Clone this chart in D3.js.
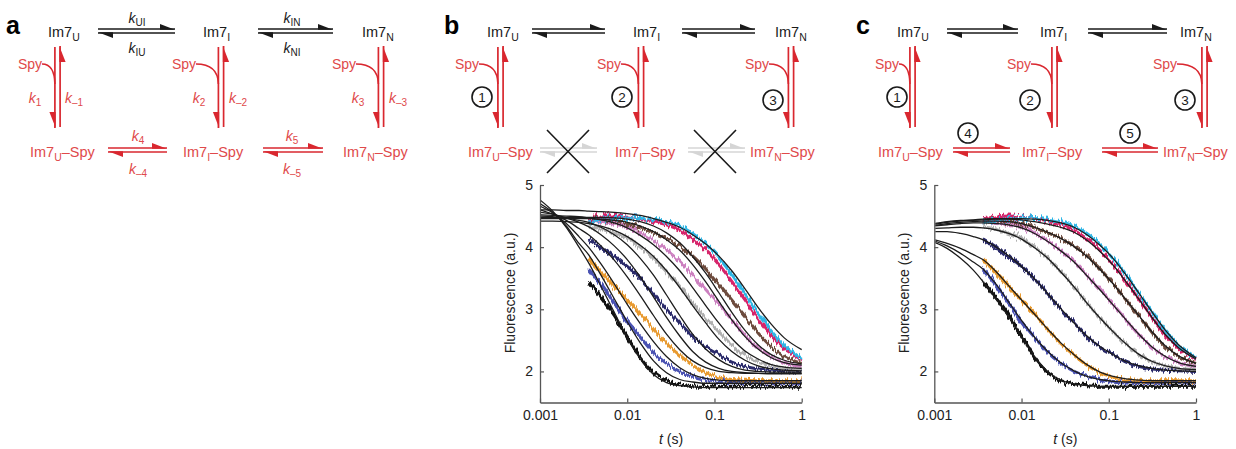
<!DOCTYPE html>
<html><head><meta charset="utf-8">
<script src="https://cdn.jsdelivr.net/npm/d3@7"></script>
<style>
body{margin:0;background:#fff}
svg{font-family:"Liberation Sans",Arial,sans-serif}
</style></head><body>
<script>
// ---- data ----
const tickX = [0.001, 0.01, 0.1, 1];
const tickXLabels = ["0.001", "0.01", "0.1", "1"];
const tickY = [2, 3, 4, 5];

// sampling times (s) of the measured traces and of the fitted curves
const tData = [0.0036, 0.005, 0.0071, 0.01, 0.0141, 0.02, 0.0282, 0.04, 0.0562, 0.0794, 0.112, 0.158, 0.224, 0.316, 0.447, 0.631, 1];
const tFit = [0.001, 0.0014, 0.002, 0.0028].concat(tData);

const traceColors = ["#111111", "#4a52b2", "#e89a30", "#2b2b6b", "#b0b0b0", "#cc80c0", "#6d4b3d", "#d6246a", "#2fb6e6"];

const dataBlack   = [3.45,3.2,2.9,2.56,2.22,1.98,1.85,1.8,1.77,1.76,1.76,1.76,1.76,1.76,1.76,1.76,1.76];
const dataBlue    = [3.65,3.4,3.1,2.8,2.55,2.3,2.13,2.0,1.92,1.87,1.84,1.83,1.82,1.82,1.82,1.82,1.82];
const dataOrange  = [3.8,3.6,3.37,3.15,2.93,2.68,2.45,2.26,2.1,1.98,1.91,1.87,1.86,1.85,1.85,1.85,1.85];
const dataNavy    = [4.12,4.0,3.85,3.69,3.5,3.25,3.0,2.78,2.56,2.39,2.27,2.15,2.08,2.04,2.02,2.01,2.0];
const dataGrey    = [4.33,4.29,4.22,4.15,4.0,3.82,3.6,3.37,3.1,2.86,2.64,2.43,2.26,2.15,2.09,2.05,2.03];
const dataPink    = [4.42,4.4,4.37,4.33,4.23,4.1,3.95,3.77,3.55,3.32,3.08,2.83,2.58,2.38,2.24,2.14,2.08];
const dataBrown   = [4.45,4.43,4.41,4.38,4.31,4.23,4.14,4.02,3.86,3.65,3.41,3.15,2.89,2.62,2.4,2.24,2.13];
const dataMagenta = [4.45,4.48,4.5,4.48,4.45,4.41,4.36,4.27,4.13,3.95,3.72,3.45,3.15,2.85,2.58,2.37,2.19];
const dataCyan    = [4.4,4.43,4.46,4.47,4.46,4.45,4.41,4.34,4.22,4.05,3.83,3.56,3.25,2.95,2.65,2.42,2.21];
const traces = [dataBlack, dataBlue, dataOrange, dataNavy, dataGrey, dataPink, dataBrown, dataMagenta, dataCyan];

// panel b fits (model without direct transfer)
const fitsB = [
  [4.76,4.58,4.32,4.0,3.75,3.37,2.95,2.55,2.2,1.95,1.82,1.77,1.75,1.74,1.74,1.74,1.74,1.74,1.74,1.74,1.74],
  [4.7,4.56,4.34,4.06,3.88,3.55,3.17,2.8,2.46,2.17,1.98,1.87,1.83,1.81,1.81,1.81,1.81,1.81,1.81,1.81,1.81],
  [4.66,4.55,4.38,4.17,4.0,3.73,3.41,3.08,2.77,2.48,2.24,2.06,1.95,1.89,1.86,1.85,1.85,1.85,1.85,1.85,1.85],
  [4.6,4.53,4.43,4.3,4.2,4.02,3.79,3.52,3.22,2.9,2.6,2.35,2.17,2.06,2.0,1.98,1.97,1.97,1.97,1.97,1.97],
  [4.56,4.53,4.47,4.4,4.33,4.2,4.02,3.8,3.52,3.2,2.87,2.57,2.32,2.15,2.05,2.0,1.98,1.97,1.96,1.96,1.96],
  [4.5,4.49,4.47,4.43,4.4,4.32,4.2,4.04,3.82,3.55,3.23,2.9,2.6,2.36,2.19,2.08,2.02,2.0,1.99,1.99,1.99],
  [4.42,4.42,4.41,4.4,4.38,4.34,4.27,4.17,4.03,3.85,3.62,3.35,3.06,2.78,2.52,2.32,2.18,2.09,2.04,2.02,2.01],
  [4.52,4.51,4.5,4.49,4.47,4.44,4.39,4.31,4.19,4.04,3.85,3.62,3.35,3.06,2.78,2.53,2.33,2.2,2.11,2.07,2.05],
  [4.46,4.46,4.46,4.46,4.46,4.45,4.43,4.4,4.34,4.25,4.12,3.95,3.72,3.44,3.13,2.83,2.56,2.36,2.22,2.14,2.1],
  [4.48,4.48,4.48,4.48,4.48,4.48,4.47,4.45,4.41,4.34,4.23,4.07,3.85,3.58,3.27,2.95,2.66,2.43,2.27,2.18,2.12],
  [4.6,4.6,4.59,4.59,4.58,4.57,4.56,4.54,4.51,4.46,4.4,4.32,4.2,4.05,3.86,3.62,3.33,3.03,2.76,2.54,2.35]
];
// panel c fits (model with direct transfer)
const fitsC = [
  [4.08,3.98,3.82,3.63,3.45,3.18,2.88,2.56,2.24,2.0,1.86,1.8,1.77,1.76,1.76,1.76,1.76,1.76,1.76,1.76,1.76],
  [4.1,4.02,3.9,3.76,3.65,3.42,3.12,2.82,2.55,2.32,2.14,2.01,1.92,1.87,1.84,1.83,1.82,1.82,1.82,1.82,1.82],
  [4.12,4.06,3.98,3.88,3.8,3.62,3.38,3.15,2.92,2.68,2.46,2.27,2.11,1.99,1.92,1.88,1.86,1.85,1.85,1.85,1.85],
  [4.25,4.25,4.22,4.17,4.12,4.01,3.86,3.69,3.49,3.25,3.01,2.78,2.57,2.4,2.27,2.16,2.09,2.05,2.02,2.01,2.0],
  [4.3,4.31,4.32,4.32,4.31,4.28,4.22,4.13,3.99,3.82,3.6,3.36,3.1,2.86,2.64,2.44,2.27,2.16,2.09,2.05,2.03],
  [4.34,4.36,4.38,4.39,4.39,4.38,4.36,4.31,4.22,4.09,3.94,3.76,3.54,3.31,3.07,2.83,2.59,2.39,2.24,2.14,2.08],
  [4.35,4.38,4.4,4.41,4.42,4.42,4.41,4.38,4.32,4.24,4.14,4.01,3.85,3.64,3.41,3.15,2.89,2.63,2.41,2.25,2.13],
  [4.37,4.4,4.42,4.43,4.44,4.45,4.45,4.44,4.41,4.37,4.32,4.24,4.11,3.93,3.71,3.44,3.15,2.86,2.59,2.38,2.2],
  [4.38,4.41,4.43,4.44,4.45,4.46,4.46,4.46,4.45,4.43,4.39,4.32,4.2,4.03,3.82,3.55,3.25,2.95,2.66,2.43,2.22]
];

// ---- drawing ----
const W = 1236, H = 449;
const RED = "#d9272f", REDT = "#e0494a", INK = "#1a1a1a";

const svg = d3.select("body").append("svg").attr("width", W).attr("height", H);

const defs = svg.append("defs");
// vertical jitter for the measured traces (a rendering style only)
function jitterFilter(id, freq, scale, seed) {
  const f = defs.append("filter").attr("id", id)
      .attr("filterUnits", "userSpaceOnUse").attr("x", 0).attr("y", 0)
      .attr("width", W).attr("height", H)
      .attr("color-interpolation-filters", "sRGB");
  f.append("feTurbulence").attr("type", "fractalNoise")
      .attr("baseFrequency", freq).attr("numOctaves", 2).attr("seed", seed).attr("result", "t");
  f.append("feColorMatrix").attr("in", "t").attr("type", "matrix")
      .attr("values", "0 0 0 0 0.5  0 1 0 0 0  0 0 0 0 0  0 0 0 0 1").attr("result", "m");
  f.append("feDisplacementMap").attr("in", "SourceGraphic").attr("in2", "m")
      .attr("scale", scale).attr("xChannelSelector", "R").attr("yChannelSelector", "G");
}
jitterFilter("noise", "0.6 0.03", 9, 4);
jitterFilter("noiseHi", "0.5 0.03", 16, 7);
defs.append("filter").attr("id", "blur").append("feGaussianBlur").attr("stdDeviation", 0.6);

function species(g, x, y, sub, tail, color) {
  const t = g.append("text").attr("x", x).attr("y", y).attr("fill", color)
      .style("font-size", "14.5px");
  t.append("tspan").text("Im7");
  t.append("tspan").attr("dy", 4).style("font-size", "10.5px").text(sub);
  if (tail) t.append("tspan").attr("dy", -4).text(tail);
}

function kLabel(g, x, y, sub, color) {
  const t = g.append("text").attr("x", x).attr("y", y).attr("fill", color)
      .attr("text-anchor", "middle").style("font-size", "14px");
  t.append("tspan").style("font-style", "italic").text("k");
  t.append("tspan").attr("dy", 3).style("font-size", "10px").text(sub);
}

// straight line with a half arrow head; side = which side of the line the barb sits
function hArrow(g, x1, x2, y, dir, side, color, w) {
  const tip = dir > 0 ? x2 : x1;
  g.append("line").attr("x1", x1).attr("x2", x2).attr("y1", y).attr("y2", y)
      .attr("stroke", color).attr("stroke-width", w || 1.6);
  g.append("path").attr("fill", color)
      .attr("d", `M${tip},${y - 0.8 * side}L${tip - dir * 15},${y + side * 5}L${tip - dir * 15},${y - side * 0.8}Z`);
}
function vArrow(g, x, y1, y2, dir, side, color) {
  const tip = dir > 0 ? y2 : y1;
  g.append("line").attr("x1", x).attr("x2", x).attr("y1", y1).attr("y2", y2)
      .attr("stroke", color).attr("stroke-width", 1.7);
  g.append("path").attr("fill", color)
      .attr("d", `M${x - 0.8 * side},${tip}L${x + side * 5.5},${tip - dir * 16}L${x - side * 0.8},${tip - dir * 16}Z`);
}

function pairH(g, x1, x2, y, color) {
  hArrow(g, x1, x2, y - 2, 1, -1, color);
  hArrow(g, x1, x2, y + 2, -1, 1, color);
}

function circled(g, cx, cy, n) {
  g.append("circle").attr("cx", cx).attr("cy", cy).attr("r", 10)
      .attr("fill", "#fff").attr("stroke", INK).attr("stroke-width", 1.6);
  g.append("text").attr("x", cx).attr("y", cy + 4.8).attr("text-anchor", "middle")
      .style("font-size", "13.5px").attr("fill", INK).text(n);
}

// one column of the scheme: Im7_X on top, Spy binding arrows down to Im7_X-Spy
function column(g, c) {
  species(g, c.tx, 37, c.sub, null, INK);
  vArrow(g, c.xv - 2.6, 47, 128, 1, -1, RED);
  vArrow(g, c.xv + 2.6, 46, 127, -1, 1, RED);
  g.append("text").attr("x", c.sx).attr("y", 69).attr("fill", REDT)
      .style("font-size", "14px").text("Spy");
  g.append("path").attr("fill", "none").attr("stroke", RED).attr("stroke-width", 1.6)
      .attr("d", `M${c.sx + 24},${64}Q${c.xv - 3},${64} ${c.xv - 2.6},${84}`);
  species(g, c.bx, 157, c.sub, "\u2013Spy", REDT);
}

function panelLetter(g, x, s) {
  g.append("text").attr("x", x).attr("y", 34).style("font-size", "25px")
      .style("font-weight", "bold").attr("fill", "#000").text(s);
}

// panel a
const ga = svg.append("g");
panelLetter(ga, 6, "a");
[{tx: 48, xv: 57.5, sx: 18, bx: 30, sub: "U"},
 {tx: 203, xv: 221, sx: 172, bx: 183, sub: "I"},
 {tx: 362, xv: 381, sx: 332, bx: 343, sub: "N"}].forEach(c => column(ga, c));
pairH(ga, 98, 175, 31, INK);
pairH(ga, 258, 333, 31, INK);
kLabel(ga, 137, 23, "UI", INK); kLabel(ga, 137, 53, "IU", INK);
kLabel(ga, 292, 23, "IN", INK); kLabel(ga, 292, 53, "NI", INK);
kLabel(ga, 35, 103, "1", REDT); kLabel(ga, 74, 103, "\u20131", REDT);
kLabel(ga, 199, 103, "2", REDT); kLabel(ga, 238, 103, "\u20132", REDT);
kLabel(ga, 358, 103, "3", REDT); kLabel(ga, 398, 103, "\u20133", REDT);
pairH(ga, 108, 167, 150, RED);
pairH(ga, 263, 323, 150, RED);
kLabel(ga, 138, 141, "4", REDT); kLabel(ga, 138, 174, "\u20134", REDT);
kLabel(ga, 292, 141, "5", REDT); kLabel(ga, 292, 174, "\u20135", REDT);

// panel b
const gb = svg.append("g");
panelLetter(gb, 444, "b");
[{tx: 487, xv: 500.5, sx: 455, bx: 468, sub: "U"},
 {tx: 633, xv: 641, sx: 597, bx: 615, sub: "I"},
 {tx: 775, xv: 791, sx: 745, bx: 750, sub: "N"}].forEach(c => column(gb, c));
pairH(gb, 532, 605, 31, INK);
pairH(gb, 682, 755, 31, INK);
circled(gb, 482, 97, "1"); circled(gb, 622, 97, "2"); circled(gb, 773, 100, "3");
[[540, 597, 568], [688, 745, 715]].forEach(([a, b, cx]) => {
  const gg = gb.append("g").attr("opacity", 0.3).attr("filter", "url(#blur)");
  pairH(gg, a, b, 150, "#777");
  gb.append("path").attr("stroke", INK).attr("stroke-width", 1.6).attr("fill", "none")
      .attr("d", `M${cx - 21},${130}L${cx + 21},${173}M${cx + 21},${130}L${cx - 21},${173}`);
});

// panel c
const gc = svg.append("g");
panelLetter(gc, 856, "c");
[{tx: 897, xv: 912.5, sx: 875, bx: 878, sub: "U"},
 {tx: 1040, xv: 1054.5, sx: 1007, bx: 1022, sub: "I"},
 {tx: 1180, xv: 1204.5, sx: 1153, bx: 1163, sub: "N"}].forEach(c => column(gc, c));
pairH(gc, 947, 1018, 31, INK);
pairH(gc, 1088, 1167, 31, INK);
pairH(gc, 953, 1010, 150, RED);
pairH(gc, 1102, 1158, 150, RED);
circled(gc, 897, 97, "1"); circled(gc, 1030, 100, "2"); circled(gc, 1185, 100, "3");
circled(gc, 968, 133, "4"); circled(gc, 1130, 133, "5");

// kinetics plots
function chart(x0, fits, id) {
  const x = d3.scaleLog().domain([0.001, 1]).range([x0, x0 + 261.7]);
  const y = d3.scaleLinear().domain([1.5, 5]).range([402.5, 185]);
  const g = svg.append("g");

  defs.append("clipPath").attr("id", id).append("rect")
      .attr("x", x0 + 1).attr("y", 175).attr("width", 263).attr("height", 227);

  const line = d3.line().curve(d3.curveMonotoneX).x(d => x(d[0])).y(d => y(d[1]));
  const plot = g.append("g").attr("clip-path", `url(#${id})`);

  const pts = d => d.map((v, i) => [tData[i], v]);
  // measured traces: whole trace with moderate jitter, early part noisier
  plot.append("g").attr("filter", "url(#noise)")
    .selectAll("path").data(traces).join("path")
      .attr("fill", "none")
      .attr("stroke", (d, i) => traceColors[i])
      .attr("stroke-width", 3)
      .attr("d", d => line(pts(d)));
  plot.append("g").attr("filter", "url(#noiseHi)")
    .selectAll("path").data(traces).join("path")
      .attr("fill", "none")
      .attr("stroke", (d, i) => traceColors[i])
      .attr("stroke-width", 1.8)
      .attr("d", d => line(pts(d).slice(0, 5)));

  plot.append("g").selectAll("path").data(fits).join("path")
      .attr("fill", "none").attr("stroke", "#1c1c1c").attr("stroke-width", 1.3)
      .attr("d", d => line(d.map((v, i) => [tFit[i], v])));

  const ax = g.append("g").attr("transform", "translate(0,402.5)")
      .call(d3.axisBottom(x).tickValues(tickX).tickFormat((d, i) => tickXLabels[i])
        .tickSizeInner(-4).tickSizeOuter(0).tickPadding(8));
  const ay = g.append("g").attr("transform", `translate(${x0},0)`)
      .call(d3.axisLeft(y).tickValues(tickY).tickFormat(d3.format("d"))
        .tickSizeInner(-4).tickSizeOuter(0).tickPadding(7));
  [ax, ay].forEach(a => {
    a.select(".domain").attr("stroke", "#555").attr("stroke-width", 1.3);
    a.selectAll(".tick line").attr("stroke", "#555").attr("stroke-width", 1.2);
    a.selectAll("text").attr("fill", "#222").style("font-size", "14px")
        .style("font-family", "'Liberation Sans',Arial,sans-serif");
  });

  g.append("text").attr("transform", `translate(${x0 - 25},293) rotate(-90)`)
      .attr("text-anchor", "middle").style("font-size", "14px").attr("fill", "#222")
      .text("Fluorescence (a.u.)");
  const xl = g.append("text").attr("x", x0 + 131).attr("y", 444)
      .attr("text-anchor", "middle").style("font-size", "14px").attr("fill", "#222");
  xl.append("tspan").style("font-style", "italic").text("t");
  xl.append("tspan").text(" (s)");
}

chart(540, fitsB, "clipB");
chart(934.3, fitsC, "clipC");
</script>
</body></html>
